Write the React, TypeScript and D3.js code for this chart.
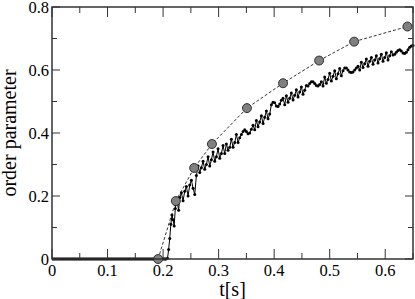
import React from 'react';
import * as d3 from 'd3';

// order parameter vs time, simulation (dots) and reference points (circles)
const flatTimes = [0, 0.205];
const flatValues = [0, 0];

const simTimes = [
  0.205, 0.208, 0.21, 0.212, 0.214, 0.216, 0.218, 0.22, 0.222, 0.224, 0.226, 0.228, 0.23, 0.233, 0.236,
  0.239, 0.242, 0.245, 0.248, 0.251, 0.254, 0.257, 0.26, 0.263, 0.266, 0.269, 0.272, 0.275, 0.278,
  0.281, 0.284, 0.287, 0.29, 0.293, 0.296, 0.299, 0.302, 0.305, 0.308, 0.311, 0.314, 0.317, 0.32,
  0.323, 0.326, 0.329, 0.332, 0.335, 0.338, 0.341, 0.344, 0.347, 0.35, 0.353, 0.356, 0.359, 0.362,
  0.365, 0.368, 0.371, 0.374, 0.377, 0.38, 0.383, 0.386, 0.389, 0.392, 0.395, 0.398, 0.401, 0.404,
  0.407, 0.41, 0.413, 0.416, 0.419, 0.422, 0.425, 0.428, 0.431, 0.434, 0.437, 0.44, 0.443, 0.446,
  0.449, 0.452, 0.455, 0.458, 0.461, 0.464, 0.467, 0.47, 0.473, 0.476, 0.479, 0.482, 0.485, 0.488,
  0.491, 0.494, 0.497, 0.5, 0.503, 0.506, 0.509, 0.512, 0.515, 0.518, 0.521, 0.524, 0.527, 0.53,
  0.533, 0.536, 0.539, 0.542, 0.545, 0.548, 0.551, 0.554, 0.557, 0.56, 0.563, 0.566, 0.569, 0.572,
  0.575, 0.578, 0.581, 0.584, 0.587, 0.59, 0.593, 0.596, 0.599, 0.602, 0.605, 0.608, 0.611, 0.614,
  0.617, 0.62, 0.623, 0.626, 0.629, 0.632, 0.635, 0.638, 0.641, 0.644, 0.647, 0.65,
];
const simValues = [
  0, 0.002, 0.03, 0.065, 0.11, 0.14, 0.125, 0.105, 0.16, 0.185, 0.175, 0.155, 0.195, 0.21, 0.185,
  0.215, 0.23, 0.2, 0.235, 0.25, 0.225, 0.205, 0.265, 0.295, 0.275, 0.29, 0.31, 0.285, 0.3,
  0.325, 0.295, 0.315, 0.34, 0.31, 0.325, 0.35, 0.32, 0.335, 0.36, 0.335, 0.365, 0.345, 0.355,
  0.38, 0.355, 0.37, 0.395, 0.37, 0.385, 0.395, 0.405, 0.41, 0.405, 0.398, 0.4, 0.412, 0.425,
  0.41, 0.44, 0.42, 0.435, 0.455, 0.43, 0.45, 0.47, 0.445, 0.46, 0.49, 0.498, 0.496, 0.486,
  0.484, 0.492, 0.504, 0.51, 0.49, 0.518, 0.498, 0.51, 0.527, 0.505, 0.52, 0.537, 0.514, 0.53,
  0.546, 0.523, 0.536, 0.551, 0.549, 0.557, 0.563, 0.563, 0.557, 0.551, 0.549, 0.554, 0.563, 0.549,
  0.578, 0.558, 0.57, 0.59, 0.565, 0.58, 0.598, 0.572, 0.588, 0.605, 0.582, 0.598, 0.606, 0.606,
  0.6, 0.594, 0.592, 0.594, 0.6, 0.606, 0.612, 0.6, 0.625, 0.608, 0.62, 0.635, 0.612, 0.628,
  0.64, 0.618, 0.632, 0.645, 0.622, 0.636, 0.65, 0.628, 0.64, 0.655, 0.632, 0.645, 0.658, 0.648,
  0.65, 0.656, 0.662, 0.664, 0.66, 0.654, 0.652, 0.656, 0.664, 0.672, 0.676, 0.678,
];

const refTimes = [0.191, 0.223, 0.256, 0.288, 0.351, 0.416, 0.481, 0.544, 0.64];
const refValues = [0, 0.184, 0.289, 0.365, 0.479, 0.558, 0.63, 0.69, 0.738];

const xTicks = [0, 0.1, 0.2, 0.3, 0.4, 0.5, 0.6];
const xMinor = [0.05, 0.15, 0.25, 0.35, 0.45, 0.55, 0.65];
const yTicks = [0, 0.2, 0.4, 0.6, 0.8];
const yMinor = [0.1, 0.3, 0.5, 0.7];

const W = 415;
const H = 299;
const m = { left: 52, right: 2, top: 7, bottom: 40 };
const FONT = 'Liberation Serif';

export default function App() {
  const x = d3.scaleLinear().domain([0, 0.65]).range([m.left, W - m.right]);
  const y = d3.scaleLinear().domain([0, 0.8]).range([H - m.bottom, m.top]);
  const line = d3.line<[number, number]>().x(d => x(d[0])).y(d => y(d[1]));

  const sim: [number, number][] = simTimes.map((t, i) => [t, simValues[i]]);
  const flat: [number, number][] = flatTimes.map((t, i) => [t, flatValues[i]]);
  const ref: [number, number][] = refTimes.map((t, i) => [t, refValues[i]]);

  const x0 = x(0), x1 = x(0.65), y0 = y(0), y1 = y(0.8);
  const axisColor = '#333';
  const txt = { fontFamily: `'${FONT}'` };

  return (
    <svg
      width={W}
      height={H}
      fontFamily={FONT}
      style={{ position: 'absolute', left: 0, top: 0, background: '#fff', fontFamily: `'${FONT}'` }}
    >
      {/* data */}
      <path d={line(ref) ?? ''} fill="none" stroke="#000" strokeWidth={0.8} strokeDasharray="3,2" />
      <path d={line(flat) ?? ''} fill="none" stroke="#000" strokeWidth={3.2} />
      <path d={line(sim) ?? ''} fill="none" stroke="#000" strokeWidth={1} />
      {sim.map((d, i) => (
        <circle key={'s' + i} cx={x(d[0])} cy={y(d[1])} r={1.5} fill="#000" />
      ))}
      {ref.map((d, i) => (
        <circle key={'r' + i} cx={x(d[0])} cy={y(d[1])} r={4.5} fill="#808080" stroke="#222" strokeWidth={0.9} />
      ))}

      {/* frame */}
      <rect x={x0} y={y1} width={x1 - x0} height={y0 - y1} fill="none" stroke={axisColor} strokeWidth={1.5} />

      {/* x ticks */}
      {xTicks.map(t => (
        <g key={'xt' + t}>
          <line x1={x(t)} x2={x(t)} y1={y0} y2={y0 - 10} stroke={axisColor} />
          <line x1={x(t)} x2={x(t)} y1={y1} y2={y1 + 10} stroke={axisColor} />
          <text x={x(t)} y={y0 + 17} textAnchor="middle" fontSize={16.5} style={txt}>
            {t === 0 ? '0' : d3.format('.1f')(t)}
          </text>
        </g>
      ))}
      {xMinor.map(t => (
        <g key={'xm' + t}>
          <line x1={x(t)} x2={x(t)} y1={y0} y2={y0 - 6} stroke={axisColor} />
          <line x1={x(t)} x2={x(t)} y1={y1} y2={y1 + 6} stroke={axisColor} />
        </g>
      ))}

      {/* y ticks */}
      {yTicks.map(v => (
        <g key={'yt' + v}>
          <line x1={x0} x2={x0 + 8} y1={y(v)} y2={y(v)} stroke={axisColor} />
          <line x1={x1} x2={x1 - 8} y1={y(v)} y2={y(v)} stroke={axisColor} />
          <text x={x0 - 3} y={y(v) + 6} textAnchor="end" fontSize={16.5} style={txt}>
            {v === 0 ? '0' : d3.format('.1f')(v)}
          </text>
        </g>
      ))}
      {yMinor.map(v => (
        <g key={'ym' + v}>
          <line x1={x0} x2={x0 + 5} y1={y(v)} y2={y(v)} stroke={axisColor} />
          <line x1={x1} x2={x1 - 5} y1={y(v)} y2={y(v)} stroke={axisColor} />
        </g>
      ))}

      {/* titles */}
      <text x={(x0 + x1) / 2} y={H - 3} textAnchor="middle" fontSize={20} style={txt}>
        t[s]
      </text>
      <text
        transform={`translate(16,${(y0 + y1) / 2}) rotate(-90)`}
        textAnchor="middle"
        fontSize={20}
        style={txt}
      >
        order parameter
      </text>
    </svg>
  );
}
